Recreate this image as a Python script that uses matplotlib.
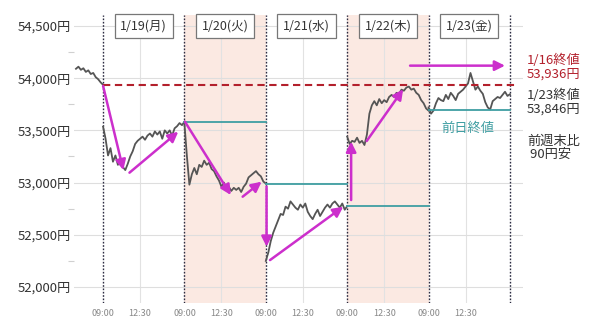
import matplotlib
matplotlib.use("Agg")
import matplotlib.pyplot as plt
from matplotlib.ticker import FuncFormatter, MultipleLocator
import numpy as np

plt.rcParams["font.family"] = ["Noto Sans CJK JP", "DejaVu Sans"]

# trading-minute index: each session is 330 min (09:00-11:30, 12:30-15:30)
DAY_LEN = 330
STEP = 10
DAY_LABELS = ["1/19(月)", "1/20(火)", "1/21(水)", "1/22(木)", "1/23(金)"]
SHADED_DAYS = [1, 3]

# 1/16 afternoon tail (minutes before the 1/19 open)
pre_minutes = [-110, -100, -90, -80, -70, -60, -50, -40, -30, -20, -10, 0]
pre_prices = [54090, 54110, 54080, 54095, 54060, 54075, 54040, 54050, 54010, 53990, 53960, 53936]

# intraday prices, one value every 10 trading minutes
day_prices = [
    [53535, 53420, 53260, 53330, 53200, 53260, 53170, 53230, 53150, 53120, 53180, 53250,
     53300, 53370, 53400, 53420, 53440, 53410, 53450, 53470, 53440, 53490, 53460, 53490,
     53420, 53500, 53470, 53500, 53450, 53520, 53540, 53570, 53550, 53584],
    [53560, 53250, 52980, 53080, 53140, 53080, 53170, 53150, 53210, 53170, 53190, 53130,
     53110, 53060, 53020, 52960, 53000, 52950, 52960, 52920, 52950, 52930, 52950, 52910,
     52960, 52990, 53050, 53070, 53090, 53110, 53080, 53060, 53010, 52991],
    [52250, 52330, 52440, 52520, 52580, 52640, 52700, 52690, 52770, 52750, 52820, 52790,
     52760, 52740, 52790, 52760, 52800, 52720, 52680, 52650, 52700, 52740, 52680, 52720,
     52760, 52790, 52760, 52800, 52820, 52790, 52760, 52800, 52740, 52775],
    [53440, 53370, 53400, 53390, 53430, 53380, 53400, 53360, 53460, 53660, 53740, 53780,
     53740, 53800, 53760, 53790, 53770, 53820, 53840, 53820, 53860, 53850, 53890, 53880,
     53910, 53920, 53890, 53900, 53860, 53840, 53790, 53760, 53710, 53689],
    [53720, 53660, 53690, 53760, 53810, 53790, 53780, 53840, 53800, 53860, 53830, 53790,
     53850, 53870, 53890, 53920, 53950, 54050, 53970, 53890, 53920, 53880, 53850, 53770,
     53720, 53700, 53780, 53800, 53820, 53810, 53840, 53870, 53830, 53846],
]

close_0116 = 53936
close_0123 = 53846
# previous-day close for 1/20 .. 1/23
prev_close = [None, 53584, 52991, 52775, 53700]

# magenta arrows: (x0, y0, x1, y1) in trading minutes / yen
arrows = [
    (0, 53925, 82, 53120),
    (107, 53095, 305, 53487),
    (332, 53583, 518, 52881),
    (566, 52865, 643, 53009),
    (663, 52961, 663, 52386),
    (677, 52258, 974, 52769),
    (1006, 52833, 1006, 53392),
    (1069, 53398, 1217, 53894),
    (1245, 54120, 1630, 54120),
]

MAGENTA = "#cc2fcc"
TEAL = "#3f9ea2"
DARKRED = "#b3202c"

fig = plt.figure(figsize=(6, 3.3), dpi=100)
ax = fig.add_axes([74 / 600, 27 / 330, 449 / 600, 288 / 330])

for d in SHADED_DAYS:
    ax.axvspan(d * DAY_LEN, (d + 1) * DAY_LEN, color="#fbe9e2", lw=0, zorder=0)

ax.set_xlim(-118, 1703)
ax.set_ylim(51847, 54605)

# grid: horizontal at major ticks, vertical at 12:30
ax.yaxis.set_major_locator(MultipleLocator(500))
ax.yaxis.set_minor_locator(MultipleLocator(250))
ax.yaxis.set_major_formatter(FuncFormatter(lambda v, p: f"{v:,.0f}円"))
ax.grid(axis="y", which="major", color="#dedede", lw=0.8, zorder=1)
for d in range(5):
    ax.axvline(d * DAY_LEN + 150, color="#e2e2e2", lw=0.8, zorder=1)
xt = []
xl = []
for d in range(5):
    xt += [d * DAY_LEN, d * DAY_LEN + 150]
    xl += ["09:00", "12:30"]
ax.set_xticks(xt)
ax.set_xticklabels(xl)
ax.tick_params(axis="x", length=0, pad=4, labelsize=6.5, labelcolor="#888888")
ax.tick_params(axis="y", which="major", length=0, pad=2, labelsize=9.5, labelcolor="#333333")
ax.tick_params(axis="y", which="minor", length=4, width=0.8, color="#d0d0d0")
for s in ax.spines.values():
    s.set_visible(False)

for d in range(6):
    ax.axvline(d * DAY_LEN, color="#2a2a40", ls=(0, (1.2, 1.2)), lw=1.0, zorder=3)

# price line
ax.plot(pre_minutes, pre_prices, color="#555555", lw=1.3, zorder=4)
for d, vals in enumerate(day_prices):
    xs = d * DAY_LEN + np.arange(0, DAY_LEN + 1, STEP)
    ax.plot(xs, vals, color="#555555", lw=1.3, zorder=4)

# previous-day closes
for d, pc in enumerate(prev_close):
    if pc is not None:
        ax.plot([d * DAY_LEN, (d + 1) * DAY_LEN], [pc, pc], color=TEAL, lw=1.3, zorder=5)

ax.plot([0, 1670], [close_0116, close_0116], color=DARKRED, ls=(0, (3.5, 2.2)), lw=1.5,
        zorder=5, clip_on=False)

for x0, y0, x1, y1 in arrows:
    ax.annotate("", xy=(x1, y1), xytext=(x0, y0),
                arrowprops=dict(arrowstyle="-|>", color=MAGENTA, lw=1.8, mutation_scale=15,
                                shrinkA=0, shrinkB=0), zorder=6)

# day label boxes
for d, lab in enumerate(DAY_LABELS):
    ax.text(d * DAY_LEN + DAY_LEN / 2, 0.962, lab, transform=ax.get_xaxis_transform(),
            ha="center", va="center", fontsize=9, color="#333333", zorder=7,
            bbox=dict(boxstyle="square,pad=0.45", fc="white", ec="#777777", lw=0.9))

ax.text(1370, 53520, "前日終値", color=TEAL, fontsize=9.5, ha="left", va="center")

# right-side notes
fig.text(527 / 600, 1 - 67 / 330, "1/16終値\n53,936円", color=DARKRED, fontsize=9.5,
         ha="left", va="center", linespacing=1.05)
fig.text(527 / 600, 1 - 102 / 330, "1/23終値\n53,846円", color="#333333", fontsize=9.5,
         ha="left", va="center", linespacing=1.05)
fig.text(527 / 600, 1 - 148 / 330, "前週末比\n 90円安", color="#333333", fontsize=9.5,
         ha="left", va="center", linespacing=1.05)

fig.savefig("out.png", dpi=100, facecolor="white")
